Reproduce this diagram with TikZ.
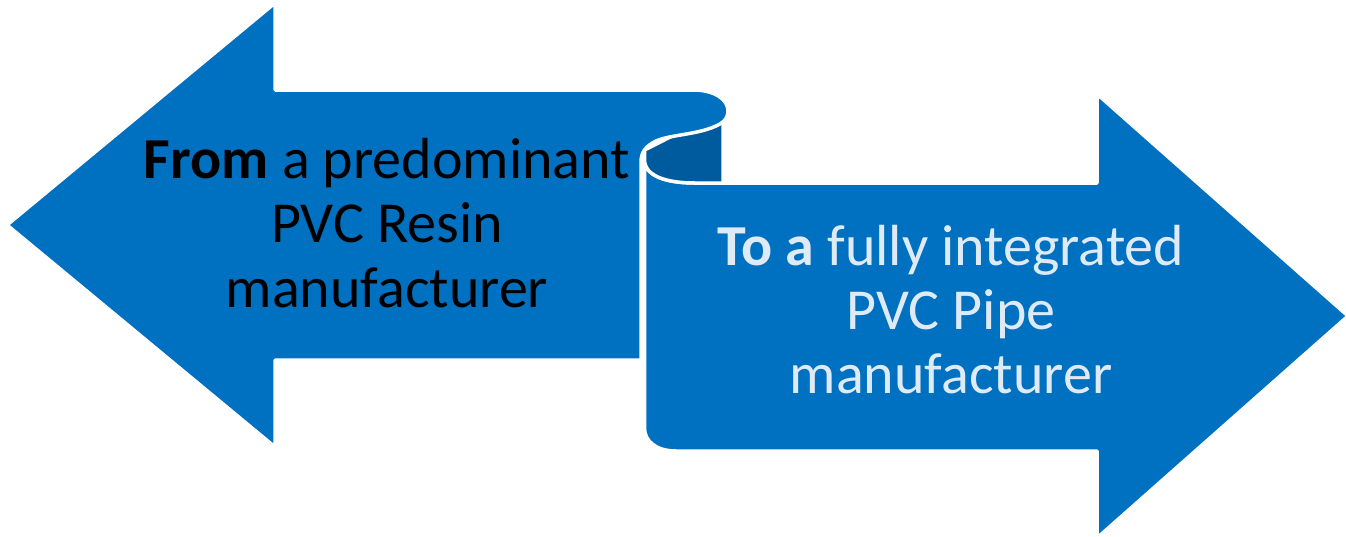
\documentclass[tikz,border=0pt]{standalone}
\usepackage{fontspec}
\setmainfont{Carlito}
\definecolor{ribbonblue}{HTML}{0070C0}
\definecolor{ribbonback}{HTML}{005A9E}
\definecolor{palefont}{HTML}{DEEBF7}
\tikzset{
  band/.style={fill=ribbonblue, draw=white, line width=3.5pt, line join=round},
  bandback/.style={fill=ribbonback, draw=white, line width=3.5pt, line join=round},
  lineleft/.style={anchor=base, inner sep=0pt, text=black, font=\fontsize{58}{65}\selectfont},
  lineright/.style={anchor=base, inner sep=0pt, text=palefont, font=\fontsize{58}{65}\selectfont}
}
\begin{document}
\begin{tikzpicture}[x=1pt, y=-1pt]
\useasboundingbox (0,0) rectangle (1346,536);

% right-pointing arrow (lower band)
\path[band] (644.5,428) -- (644.5,160)
  .. controls (645,176) and (666,183) .. (695,183)
  -- (1097,183) -- (1097,94) -- (1348,316) -- (1097,538) -- (1097,451)
  -- (676,451) .. controls (656,451) and (644.5,441) .. (644.5,428) -- cycle;

% back side of the curl
\path[bandback] (723,118) -- (723,183) -- (695,183)
  .. controls (666,183) and (645,176) .. (644.5,160)
  -- (644.5,150) -- (700,122) -- cycle;

% left-pointing arrow (upper band) with the rolled end
\path[band] (7,225) -- (275,3) -- (275,90) -- (693,90)
  .. controls (714,90) and (728,99) .. (728,111)
  .. controls (728,117) and (725,121) .. (720,124)
  .. controls (700,135) and (672,134) .. (656,141)
  .. controls (646,146) and (641,152) .. (641,162)
  -- (641,360) -- (275,360) -- (275,447) -- cycle;

% captions
\node[lineleft] (from1) at (387,178) {\textbf{From} a predominant};
\node[lineleft] (from2) at (387,242) {PVC Resin};
\node[lineleft] (from3) at (387,307) {manufacturer};

\node[lineright] (to1) at (951,265) {\textbf{To a} fully integrated};
\node[lineright] (to2) at (951,329) {PVC Pipe};
\node[lineright] (to3) at (951,393) {manufacturer};
\end{tikzpicture}
\end{document}
